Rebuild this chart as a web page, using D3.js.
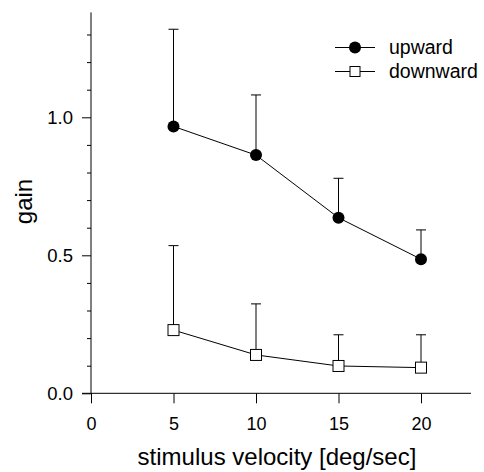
<!DOCTYPE html>
<html>
<head>
<meta charset="utf-8">
<script src="https://cdn.jsdelivr.net/npm/d3@7"></script>
<style>
  html, body { margin: 0; padding: 0; background: #fff; }
  svg { display: block; font-family: "Liberation Sans", Arial, Helvetica, sans-serif; }
</style>
</head>
<body>
<svg id="chart" width="484" height="472"></svg>
<script>
// ---- data ----
const velocities = [5, 10, 15, 20];
const upwardGain = [0.967, 0.863, 0.636, 0.486];
const upwardErr = [0.352, 0.218, 0.143, 0.106];
const downwardGain = [0.229, 0.139, 0.099, 0.093];
const downwardErr = [0.306, 0.185, 0.113, 0.119];
const xTicks = [0, 5, 10, 15, 20];
const yMajorTicks = [0.0, 0.5, 1.0];
const yMinorTicks = [0.1, 0.2, 0.3, 0.4, 0.6, 0.7, 0.8, 0.9, 1.1, 1.2, 1.3];
const seriesNames = ["upward", "downward"];

// ---- layout ----
const svg = d3.select("#chart");
const x = d3.scaleLinear().domain([0, 20]).range([91, 421]);
const y = d3.scaleLinear().domain([0, 1]).range([393.3, 117.3]);
const xMax = 23.03, yMax = 1.38;

// axes lines
svg.append("line")
  .attr("x1", x(0)).attr("x2", x(0))
  .attr("y1", y(yMax)).attr("y2", y(0))
  .attr("stroke", "#000").attr("stroke-width", 1);
svg.append("line")
  .attr("x1", x(0) - 9).attr("x2", x(xMax))
  .attr("y1", y(0)).attr("y2", y(0))
  .attr("stroke", "#000").attr("stroke-width", 1);

// y axis major
const yAxisG = svg.append("g").attr("transform", `translate(${x(0)},0)`)
  .call(d3.axisLeft(y).tickValues(yMajorTicks).tickFormat(d3.format(".1f")).tickSize(9).tickPadding(9));
yAxisG.select(".domain").remove();
yAxisG.selectAll("text").attr("font-size", 18.5).attr("font-family", "Liberation Sans, Arial, sans-serif").attr("fill", "#000");
// y axis minor
const yMinorG = svg.append("g").attr("transform", `translate(${x(0)},0)`)
  .call(d3.axisLeft(y).tickValues(yMinorTicks).tickFormat("").tickSize(4));
yMinorG.select(".domain").remove();

// x axis
const xAxisG = svg.append("g").attr("transform", `translate(0,${y(0)})`)
  .call(d3.axisBottom(x).tickValues(xTicks).tickFormat(d3.format("d")).tickSize(10).tickPadding(14));
xAxisG.select(".domain").remove();
xAxisG.selectAll("text").attr("font-size", 18).attr("font-family", "Liberation Sans, Arial, sans-serif").attr("fill", "#000");

// axis titles
svg.append("text")
  .attr("transform", `translate(32,${201.5}) rotate(-90)`)
  .attr("text-anchor", "middle")
  .attr("font-size", 24)
  .text("gain");
svg.append("text")
  .attr("x", 277).attr("y", 465)
  .attr("text-anchor", "middle")
  .attr("font-size", 24)
  .text("stimulus velocity [deg/sec]");

const line = d3.line().x(d => x(d[0])).y(d => y(d[1]));
const upData = velocities.map((v, i) => [v, upwardGain[i], upwardErr[i]]);
const downData = velocities.map((v, i) => [v, downwardGain[i], downwardErr[i]]);

function errorBars(data) {
  const g = svg.append("g").attr("stroke", "#000").attr("stroke-width", 1);
  data.forEach(d => {
    g.append("line").attr("x1", x(d[0])).attr("x2", x(d[0]))
      .attr("y1", y(d[1])).attr("y2", y(d[1] + d[2]));
    g.append("line").attr("x1", x(d[0]) - 5).attr("x2", x(d[0]) + 5)
      .attr("y1", y(d[1] + d[2])).attr("y2", y(d[1] + d[2]));
  });
}
errorBars(upData);
errorBars(downData);

svg.append("path").datum(upData).attr("d", line)
  .attr("fill", "none").attr("stroke", "#000").attr("stroke-width", 1);
svg.append("path").datum(downData).attr("d", line)
  .attr("fill", "none").attr("stroke", "#000").attr("stroke-width", 1);

svg.append("g").selectAll("circle").data(upData).join("circle")
  .attr("cx", d => x(d[0])).attr("cy", d => y(d[1])).attr("r", 6)
  .attr("fill", "#000");
svg.append("g").selectAll("rect").data(downData).join("rect")
  .attr("x", d => x(d[0]) - 5.5).attr("y", d => y(d[1]) - 5.5)
  .attr("width", 11).attr("height", 11)
  .attr("fill", "#fff").attr("stroke", "#000").attr("stroke-width", 1);

// legend
const legend = svg.append("g");
const legY = [47.5, 71.5];
seriesNames.forEach((name, i) => {
  legend.append("line").attr("x1", 335).attr("x2", 375)
    .attr("y1", legY[i]).attr("y2", legY[i])
    .attr("stroke", "#000").attr("stroke-width", 1);
  if (i === 0) {
    legend.append("circle").attr("cx", 355).attr("cy", legY[i]).attr("r", 6).attr("fill", "#000");
  } else {
    legend.append("rect").attr("x", 355 - 5).attr("y", legY[i] - 5)
      .attr("width", 10).attr("height", 10)
      .attr("fill", "#fff").attr("stroke", "#000").attr("stroke-width", 1);
  }
  legend.append("text").attr("x", 389).attr("y", legY[i]).attr("dy", "0.35em")
    .attr("font-size", 19.5).text(name);
});
</script>
</body>
</html>
